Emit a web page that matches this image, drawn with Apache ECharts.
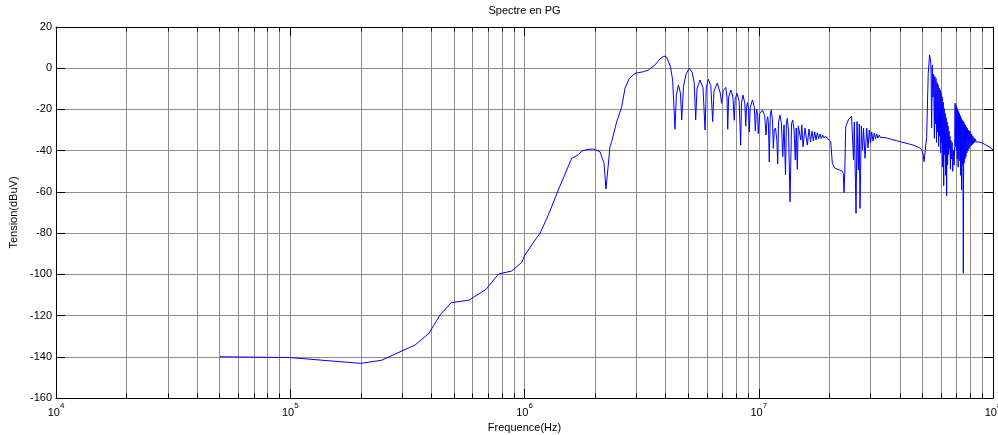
<!DOCTYPE html>
<html><head><meta charset="utf-8">
<script src="https://cdn.jsdelivr.net/npm/echarts@6/dist/echarts.min.js"></script>
<style>html,body{margin:0;padding:0;background:#fff}#c{width:998px;height:435px}</style>
</head><body><div id="c"></div>
<script>
// ---- texts / ticks ----
const titleText = 'Spectre en PG';
const xName = 'Frequence(Hz)';
const yName = 'Tension(dBuV)';
const xMin = 1e4, xMax = 1e8;
const yMin = -160, yMax = 20, yStep = 20;
const decades = [1e4, 1e5, 1e6, 1e7];
const minorMultipliers = [2, 3, 4, 5, 6, 7, 8, 9];

// ---- series values: [frequency in MHz, level in dBuV] ----
const riseBand = [
  [0.05,-140.0],[0.07,-140.2],[0.1,-140.4],[0.2,-143.2],[0.245,-141.7],[0.341,-134.3],
  [0.391,-128.6],[0.436,-119.7],[0.486,-113.8],[0.58,-112.5],[0.685,-107.3],[0.776,-99.8],
  [0.882,-98.4],[0.973,-94.2],[1.005,-90.6],[1.11,-83.3],[1.165,-80.1],[1.264,-71.2],
  [1.394,-59.1],[1.59,-43.7],[1.697,-42.0],[1.755,-40.2],[1.85,-39.4],[1.966,-39.2],
  [2.1,-40.5],[2.185,-46.1],[2.228,-58.6],[2.317,-38.1],[2.356,-35.6],[2.475,-26.0],
  [2.60,-18.7],[2.686,-9.7],[2.80,-5.0],[2.963,-2.5],[3.216,-1.7],[3.378,-0.9],
  [3.607,1.6],[3.788,4.5],[3.94,5.9],[4.05,5.3],[4.2,0.7],[4.29,-5.7],[4.39,-29.6]
];
const lobeBand = [
  [4.45,-13],[4.54,-8.1],[4.63,-12],[4.69,-25.1],[4.77,-9],[4.89,-3],[5.05,0],[5.2,-2],
  [5.3,-7],[5.38,-25.1],[5.45,-10],[5.61,-5.7],[5.78,-9.5],[5.90,-30],[5.97,-9.5],
  [6.09,-5.4],[6.24,-8.5],[6.36,-25.9],[6.44,-11],[6.65,-7.3],[6.85,-12],[6.94,-17],
  [7.05,-11],[7.23,-9.3],[7.32,-14],[7.37,-29.6],[7.44,-14],[7.61,-10.6],[7.76,-14],
  [7.86,-25.3],[7.93,-15],[8.08,-12.2],[8.25,-16],[8.37,-37.4],[8.44,-17],[8.56,-13],
  [8.72,-17],[8.80,-28.1],[8.87,-19],[8.95,-16.7],[9.05,-20],[9.11,-30.9],[9.2,-19],
  [9.40,-15.4],[9.58,-19],[9.67,-30.5],[9.75,-22],[9.8,-20],[9.9,-23],[9.95,-31.7],
  [10.1,-22],[10.37,-20.3],[10.6,-23],[10.74,-32.4],[10.85,-25],[10.92,-23.5],[11.0,-27],
  [11.09,-45.5],[11.2,-23],[11.3,-20.3],[11.45,-25],[11.54,-38.9],[11.65,-30],[11.79,-29],
  [11.95,-35],[12.05,-46.5],[12.15,-26],[12.32,-22.7],[12.5,-27],[12.66,-42.9],[12.82,-27.5],
  [13.01,-51.8],[13.12,-27],[13.24,-24.3],[13.4,-30],[13.6,-64.8],[13.8,-27],[13.96,-25.1],
  [14.15,-30],[14.32,-44.5],[14.45,-29],[14.61,-49],[14.75,-28],[14.9,-27.1],[15.12,-34.8],
  [15.27,-27.5],[15.45,-38.2],[15.76,-29.1],[16.12,-37.3],[16.39,-29.5],[16.63,-35.8],
  [16.88,-30.5],[17.1,-35.3],[17.34,-30.9],[17.56,-34.8],[17.78,-31.4],[18.01,-34.3],
  [18.26,-31.9],[18.49,-34.1],[18.73,-32.4],[18.99,-33.9],[19.28,-32.9],[19.56,-33.9],
  [19.86,-34.1],[20.29,-35.6]
];
const midBand = [
  [20.61,-46.1],[21.16,-48.6],[22.6,-49.7],[22.96,-51.0],[23.12,-60.4],[23.28,-51.8],
  [23.51,-28.4],[24.12,-25.1],[24.89,-23.2],[25.18,-23.5],[25.38,-44.5],[25.58,-26.1],
  [26.02,-70.4],[26.27,-25.9],[26.61,-49.4],[26.87,-27.1],[27.05,-68.0],[27.41,-28.0],
  [27.73,-39.7],[28.01,-29.0],[28.42,-43.7],[28.9,-29.1],[29.27,-38.7],[29.64,-30.0],
  [30.0,-36.3],[30.35,-30.9],[30.74,-35.3],[31.13,-31.4],[31.5,-34.3],[31.87,-31.9],
  [32.28,-33.9],[32.69,-32.4],[33.08,-33.6],[33.58,-32.9],[34.25,-33.6],[35.28,-33.9],
  [38.8,-35.2],[45.7,-37.3],[48.32,-38.5],[49.6,-39.4],[50.26,-41.6],[50.8,-45.4],
  [51.5,-45.1],[51.8,-44.5]
];
const highBand = [
  [52.1,-33.2],[52.9,-2.5],[53.6,6.4],[54.1,4],[54.4,-1],[54.7,-29],[55.1,1.5],[55.4,-14],
  [55.8,-3],[56.2,-34],[56.5,-4],[56.8,-27],[57.1,-5],[57.4,-36],[57.7,-7],[58.0,-31],
  [58.3,-8],[58.6,-38],[58.9,-9.5],[59.2,-33],[59.5,-10.5],[59.8,-41],[60.1,-12],[60.4,-36],
  [60.7,-14],[61.0,-48],[61.3,-16.5],[61.6,-57],[61.9,-19.5],[62.2,-42],[62.5,-22],[62.8,-52],
  [63.1,-24],[63.4,-62],[63.7,-26],[64.0,-47],[64.3,-28],[64.6,-42],[64.9,-30.5],[65.2,-39],
  [65.5,-33],[65.8,-49],[66.1,-35],[66.5,-44],[66.9,-36],[67.3,-50],[67.7,-40],[68.2,-47],
  [68.6,-38],[68.9,-17],[69.2,-38],[69.5,-18],[69.8,-40],[70.1,-19],[70.4,-44],[70.7,-20],
  [71.0,-48],[71.3,-21],[71.6,-41],[71.9,-22],[72.2,-45],[72.5,-23],[72.8,-52],[73.1,-24],
  [73.4,-59],[73.7,-25],[74.0,-47],[74.3,-25.5],[74.7,-99.5],[75.0,-26],[75.3,-46],[75.6,-27],
  [75.9,-44],[76.2,-27.5],[76.6,-43],[77.0,-28.5],[77.4,-41],[77.8,-29.2],[78.2,-40],[78.6,-30],
  [79.0,-39],[79.4,-30.5],[79.8,-38],[80.2,-31],[80.7,-37.5],[81.1,-32],[81.6,-37],[82.1,-33],
  [82.6,-36.5],[83.1,-33.8],[83.6,-36],[84.2,-34.5],[84.8,-35.8],[85.5,-35],[87,-35.8],
  [90,-36.3],[94,-37.5],[97,-38.3],[100,-39.7]
];

// ---- build ----
const spectrum = riseBand.concat(lobeBand, midBand, highBand).map(p => [p[0] * 1e6, p[1]]);
const minorFreqs = [];
decades.forEach(d => minorMultipliers.forEach(m => minorFreqs.push(d * m)));

const gridColor = '#8c8c8c';
const font = 'Liberation Sans';
const pxPerDb = 371 / (yMax - yMin);
const minorTickDb = 4.5 / pxPerDb;

const markData = [];
minorFreqs.forEach(f => {
  markData.push([{coord: [f, yMin], lineStyle: {color: gridColor}}, {coord: [f, yMax]}]);
});
minorFreqs.forEach(f => {
  markData.push([{coord: [f, yMin], lineStyle: {color: '#000'}}, {coord: [f, yMin + minorTickDb]}]);
  markData.push([{coord: [f, yMax], lineStyle: {color: '#000'}}, {coord: [f, yMax - minorTickDb]}]);
});

const chart = echarts.init(document.getElementById('c'), null, {renderer: 'canvas'});
const xCommon = {
  type: 'log', logBase: 10, min: xMin, max: xMax,
  axisLine: {show: true, onZero: false, lineStyle: {color: '#000', width: 1}},
  axisTick: {show: true, inside: true, length: 9, lineStyle: {color: '#000'}},
  minorTick: {show: false}
};
const yCommon = {
  type: 'value', min: yMin, max: yMax, interval: yStep,
  axisLine: {show: true, onZero: false, lineStyle: {color: '#000', width: 1}},
  axisTick: {show: true, inside: true, length: 9, lineStyle: {color: '#000'}}
};
chart.setOption({
  animation: false,
  backgroundColor: '#fff',
  grid: {left: 56, top: 27, width: 937, height: 371, containLabel: false, outerBoundsMode: 'none'},
  graphic: [{
    type: 'text', x: 524.5, y: 11, silent: true,
    style: {text: titleText, fill: '#000', font: '11px "Liberation Sans"', align: 'center', verticalAlign: 'middle'}
  }],
  xAxis: [
    Object.assign({}, xCommon, {
      position: 'bottom',
      name: xName, nameLocation: 'middle', nameGap: 24,
      nameTextStyle: {color: '#000', fontSize: 11, fontFamily: font},
      splitLine: {show: true, showMinLine: false, showMaxLine: false, lineStyle: {color: gridColor, width: 1, type: 'solid'}},
      axisLabel: {
        show: true, margin: 4, showMinLabel: true, showMaxLabel: true, hideOverlap: false,
        formatter: v => '{b|10}{s|' + Math.round(Math.log10(v)) + '}',
        rich: {
          b: {fontSize: 11, fontFamily: font, color: '#000', lineHeight: 16, verticalAlign: 'bottom'},
          s: {fontSize: 8, fontFamily: font, color: '#000', lineHeight: 16, verticalAlign: 'top'}
        }
      }
    }),
    Object.assign({}, xCommon, {position: 'top', axisLabel: {show: false}, splitLine: {show: false}})
  ],
  yAxis: [
    Object.assign({}, yCommon, {
      position: 'left',
      name: yName, nameLocation: 'middle', nameGap: 34, nameRotate: 90,
      nameTextStyle: {color: '#000', fontSize: 11, fontFamily: font},
      splitLine: {show: true, showMinLine: false, showMaxLine: false, lineStyle: {color: gridColor, width: 1, type: 'solid'}},
      axisLabel: {show: true, margin: 4, color: '#000', fontSize: 11, fontFamily: font}
    }),
    Object.assign({}, yCommon, {position: 'right', axisLabel: {show: false}, splitLine: {show: false}})
  ],
  series: [
    {
      type: 'line', xAxisIndex: 0, yAxisIndex: 0, data: [], silent: true, z: 1,
      markLine: {silent: true, symbol: ['none', 'none'], label: {show: false}, animation: false,
        lineStyle: {type: 'solid', width: 1}, data: markData}
    },
    {
      type: 'line', xAxisIndex: 0, yAxisIndex: 0, data: spectrum, z: 5,
      showSymbol: false, symbol: 'none', sampling: null, smooth: false,
      lineStyle: {color: '#0000ff', width: 1}, itemStyle: {color: '#0000ff'}
    }
  ]
});
</script></body></html>
